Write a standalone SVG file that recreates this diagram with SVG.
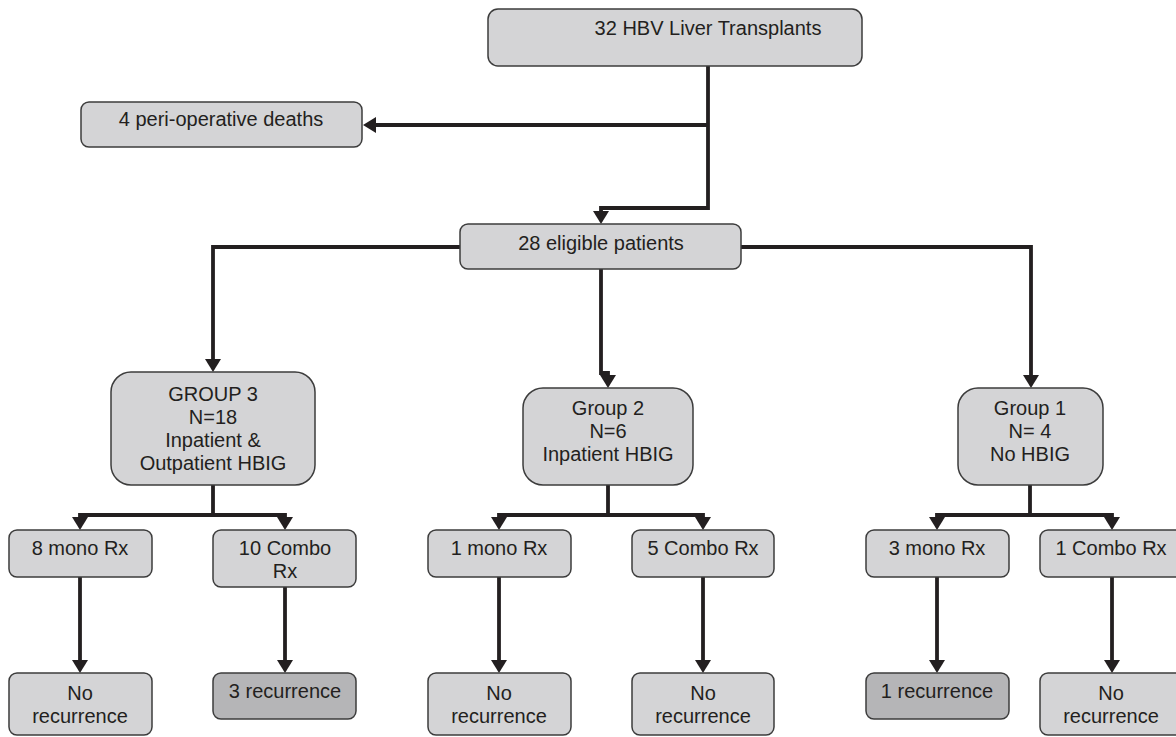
<svg xmlns="http://www.w3.org/2000/svg" width="1176" height="737" viewBox="0 0 1176 737">
<style>
.box{fill:#d4d4d6;stroke:#3c3c3c;stroke-width:1.5}
.dark{fill:#b5b5b7;stroke:#3c3c3c;stroke-width:1.5}
text{font-family:"Liberation Sans",Arial,sans-serif;font-size:20px;fill:#231f20;text-anchor:middle}
.c{fill:none;stroke:#231f20;stroke-width:3.8;marker-end:url(#ah)}
</style>
<defs>
<marker id="ah" viewBox="0 0 13 16" refX="0" refY="8" markerWidth="13" markerHeight="16" markerUnits="userSpaceOnUse" orient="auto">
<path d="M0,0 L13,8 L0,16 z" fill="#231f20"/>
</marker>
</defs>
<g id="connectors">
<path class="c" d="M708,66 V208 H601 V211"/>
<path class="c" d="M708,125 H376"/>
<path class="c" d="M460,247 H213 V359"/>
<path class="c" d="M601,269 V373 H608 V375"/>
<path class="c" d="M741,247 H1031 V375"/>
<path class="c" d="M213,485 V515 H80 V517"/>
<path class="c" d="M213,515 H285 V517"/>
<path class="c" d="M608,485 V515 H499 V517"/>
<path class="c" d="M608,515 H703 V517"/>
<path class="c" d="M1030,485 V515 H937 V517"/>
<path class="c" d="M1030,515 H1112 V517"/>
<path class="c" d="M80,577 V660"/>
<path class="c" d="M285,587 V660"/>
<path class="c" d="M499,577 V660"/>
<path class="c" d="M703,577 V660"/>
<path class="c" d="M937,577 V660"/>
<path class="c" d="M1112,577 V660"/>
</g>
<g id="n-top"><rect class="box" x="488" y="9" width="374" height="57" rx="10"/><text x="708" y="35">32 HBV Liver Transplants</text></g>
<g id="n-deaths"><rect class="box" x="81" y="102" width="281" height="45" rx="8"/><text x="221" y="126">4 peri-operative deaths</text></g>
<g id="n-eligible"><rect class="box" x="460" y="224" width="281" height="45" rx="8"/><text x="601" y="250">28 eligible patients</text></g>
<g id="n-group3"><rect class="box" x="111" y="372" width="204" height="113" rx="20"/>
<text x="213" y="401">GROUP 3</text><text x="213" y="424">N=18</text><text x="213" y="447">Inpatient &amp;</text><text x="213" y="470">Outpatient HBIG</text></g>
<g id="n-group2"><rect class="box" x="523" y="388" width="170" height="97" rx="20"/>
<text x="608" y="415">Group 2</text><text x="608" y="438">N=6</text><text x="608" y="461">Inpatient HBIG</text></g>
<g id="n-group1"><rect class="box" x="958" y="388" width="145" height="97" rx="20"/>
<text x="1030" y="415">Group 1</text><text x="1030" y="438">N= 4</text><text x="1030" y="461">No HBIG</text></g>
<g id="n-g3mono"><rect class="box" x="9" y="530" width="143" height="47" rx="8"/><text x="80" y="555">8 mono Rx</text></g>
<g id="n-g3combo"><rect class="box" x="213" y="530" width="143" height="57" rx="8"/><text x="285" y="555">10 Combo</text><text x="285" y="578">Rx</text></g>
<g id="n-g2mono"><rect class="box" x="428" y="530" width="143" height="47" rx="8"/><text x="499" y="555">1 mono Rx</text></g>
<g id="n-g2combo"><rect class="box" x="632" y="530" width="142" height="47" rx="8"/><text x="703" y="555">5 Combo Rx</text></g>
<g id="n-g1mono"><rect class="box" x="866" y="530" width="143" height="47" rx="8"/><text x="937" y="555">3 mono Rx</text></g>
<g id="n-g1combo"><rect class="box" x="1040" y="530" width="144" height="47" rx="8"/><text x="1111" y="555">1 Combo Rx</text></g>
<g id="n-r1"><rect class="box" x="9" y="673" width="143" height="62" rx="8"/><text x="80" y="700">No</text><text x="80" y="723">recurrence</text></g>
<g id="n-r2"><rect class="dark" x="213" y="673" width="143" height="46" rx="8"/><text x="285" y="698">3 recurrence</text></g>
<g id="n-r3"><rect class="box" x="428" y="673" width="143" height="62" rx="8"/><text x="499" y="700">No</text><text x="499" y="723">recurrence</text></g>
<g id="n-r4"><rect class="box" x="632" y="673" width="142" height="62" rx="8"/><text x="703" y="700">No</text><text x="703" y="723">recurrence</text></g>
<g id="n-r5"><rect class="dark" x="866" y="673" width="143" height="46" rx="8"/><text x="937" y="698">1 recurrence</text></g>
<g id="n-r6"><rect class="box" x="1040" y="673" width="144" height="62" rx="8"/><text x="1111" y="700">No</text><text x="1111" y="723">recurrence</text></g>
</svg>
